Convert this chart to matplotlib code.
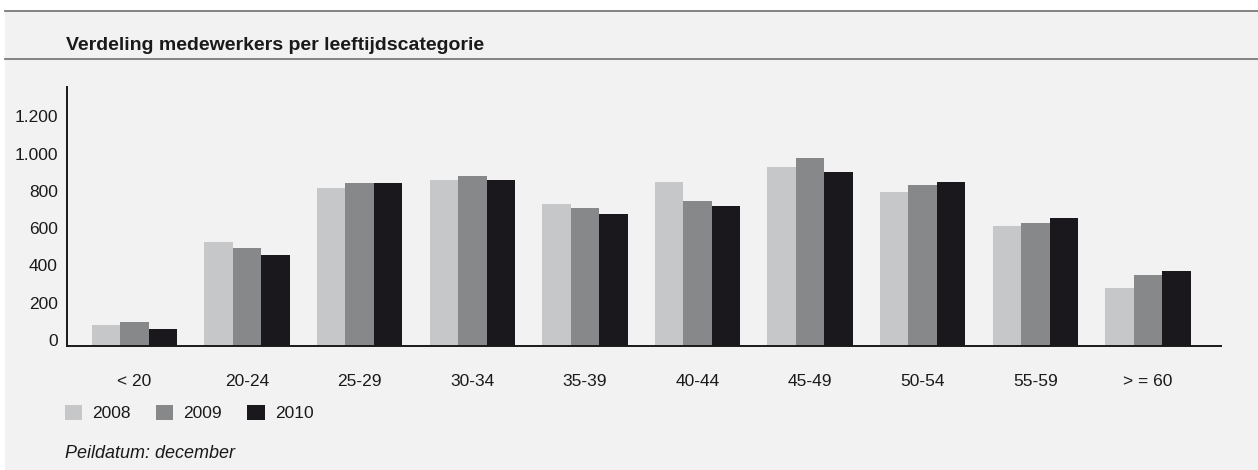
import matplotlib.pyplot as plt
import numpy as np
from matplotlib.patches import Rectangle
from matplotlib.lines import Line2D

plt.rcParams['font.family'] = ['Liberation Sans', 'DejaVu Sans']

leeftijden = ['< 20', '20-24', '25-29', '30-34', '35-39', '40-44', '45-49', '50-54', '55-59', '> = 60']
jaren = ['2008', '2009', '2010']
aantal_2008 = [112, 557, 846, 889, 761, 879, 959, 825, 643, 311]
aantal_2009 = [129, 525, 873, 911, 739, 777, 1007, 862, 659, 380]
aantal_2010 = [91, 487, 873, 889, 707, 750, 932, 879, 686, 402]
y_ticks = [0, 200, 400, 600, 800, 1000, 1200]
y_labels = ['0', '200', '400', '600', '800', '1.000', '1.200']

kleuren = ['#c6c7c9', '#87888a', '#1a181c']
tekst = '#1a1a1a'
fs = 12.5

W, H = 1258, 470
fig = plt.figure(figsize=(W / 100, H / 100), dpi=100, facecolor='white')

# grijs paneel met lijnen boven en onder de titel
fig.patches.append(Rectangle((5 / W, 0), 1 - 5 / W, 1 - 11 / H, transform=fig.transFigure,
                             facecolor='#f2f2f2', edgecolor='none', zorder=-10))
for yp in (11, 59):
    fig.add_artist(Line2D([5 / W, 1], [1 - yp / H, 1 - yp / H], transform=fig.transFigure,
                          color='#7a7a7a', lw=1.3))

fig.text(66 / W, 1 - 45 / H, 'Verdeling medewerkers per leeftijdscategorie',
         fontsize=14, fontweight='bold', color=tekst, va='center', ha='left')

ax = fig.add_axes([66.7 / W, 1 - 346 / H, (1221 - 66.7) / W, (346 - 87) / H])
ax.set_facecolor('none')

x = np.arange(len(leeftijden))
width = 0.253
for i, (vals, jaar) in enumerate(zip([aantal_2008, aantal_2009, aantal_2010], jaren)):
    ax.bar(x + (i - 1) * width, vals, width, color=kleuren[i], label=jaar, zorder=2)

ax.set_xlim(-0.602, 9.649)
ax.set_ylim(0, 1390)
ax.set_yticks(y_ticks)
ax.set_yticklabels(y_labels)
ax.set_xticks(x)
ax.set_xticklabels(leeftijden)
plt.setp(ax.get_yticklabels(), va='baseline')

ax.tick_params(axis='y', length=0, pad=6.5, labelsize=fs, labelcolor=tekst)
ax.tick_params(axis='x', length=0, pad=20, labelsize=fs, labelcolor=tekst)

for s in ('top', 'right'):
    ax.spines[s].set_visible(False)
for s in ('left', 'bottom'):
    ax.spines[s].set_color(tekst)
    ax.spines[s].set_linewidth(1.4)

fig.legend(loc='center left', bbox_to_anchor=(65 / W, 1 - 413 / H), bbox_transform=fig.transFigure,
           ncol=3, frameon=False, fontsize=fs, handlelength=1.0, handleheight=1.0,
           handletextpad=0.58, columnspacing=1.45, borderpad=0, borderaxespad=0,
           labelcolor=tekst)

fig.text(65 / W, 1 - 453 / H, 'Peildatum: december', fontsize=13, style='italic',
         color=tekst, va='center', ha='left')

fig.savefig('out.png', dpi=100, facecolor=fig.get_facecolor())
